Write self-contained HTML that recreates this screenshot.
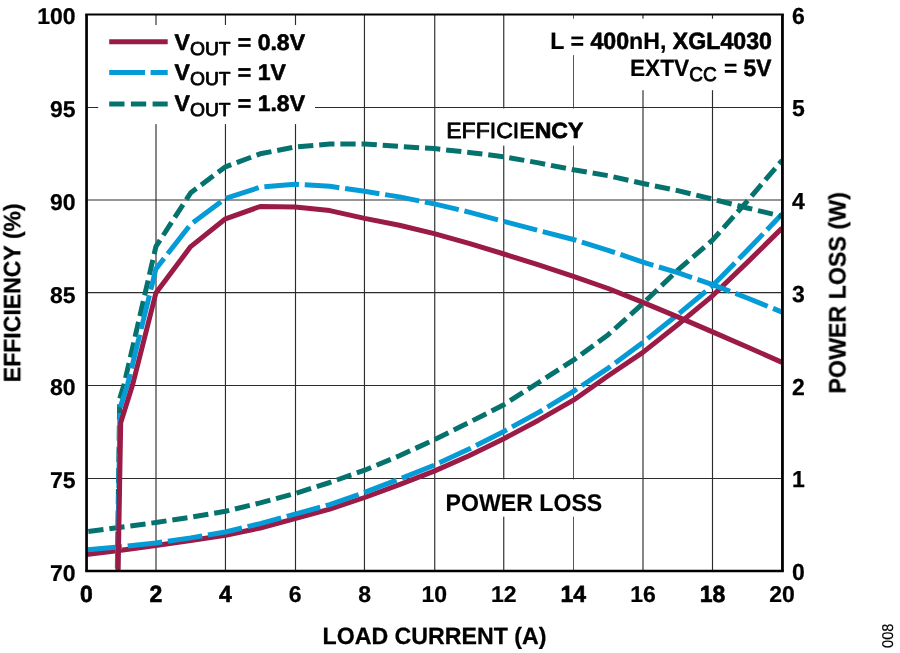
<!DOCTYPE html>
<html><head><meta charset="utf-8"><title>Efficiency and Power Loss vs Load Current</title>
<style>html,body{margin:0;padding:0;background:#fff;}svg{display:block;}text{font-family:"Liberation Sans",sans-serif;font-weight:bold;fill:#000;text-rendering:geometricPrecision;}</style>
</head><body>
<svg width="900" height="653" viewBox="0 0 900 653">
<rect x="0" y="0" width="900" height="653" fill="#fff"/>
<g stroke="#2c2c2c" stroke-width="1.15" fill="none">
<line x1="156.00" y1="14.7" x2="156.00" y2="571.2"/>
<line x1="225.45" y1="14.7" x2="225.45" y2="571.2"/>
<line x1="295.50" y1="14.7" x2="295.50" y2="571.2"/>
<line x1="364.45" y1="14.7" x2="364.45" y2="571.2"/>
<line x1="434.75" y1="14.7" x2="434.75" y2="571.2"/>
<line x1="503.75" y1="14.7" x2="503.75" y2="571.2"/>
<line x1="573.50" y1="14.7" x2="573.50" y2="571.2" stroke-width="0.8"/>
<line x1="643.00" y1="14.7" x2="643.00" y2="571.2"/>
<line x1="712.50" y1="14.7" x2="712.50" y2="571.2"/>
<line x1="86.3" y1="478.50" x2="782.1" y2="478.50"/>
<line x1="86.3" y1="385.50" x2="782.1" y2="385.50"/>
<line x1="86.3" y1="292.60" x2="782.1" y2="292.60"/>
<line x1="86.3" y1="200.00" x2="782.1" y2="200.00"/>
<line x1="86.3" y1="107.45" x2="782.1" y2="107.45"/>
</g>
<g fill="#fff">
<rect x="98.2" y="25" width="216.8" height="99.1"/>
<rect x="545" y="18.7" width="236" height="36.4"/>
<rect x="622" y="54.5" width="159" height="35.7"/>
<rect x="440" y="108.4" width="150" height="37.2"/>
<rect x="440" y="479.3" width="168" height="37.4"/>
</g>
<clipPath id="pc"><rect x="86.3" y="14.7" width="695.8" height="556.5"/></clipPath>
<g clip-path="url(#pc)">
<polyline points="86.3,554.6 121.1,550.3 155.9,545.4 190.7,540.6 225.5,535.2 260.2,528.0 295.0,518.7 329.8,509.1 364.6,497.5 399.4,484.6 434.2,471.1 469.0,455.8 503.8,438.7 538.6,420.2 573.4,400.2 608.2,375.8 642.9,352.4 677.7,324.7 712.5,295.8 747.3,262.4 782.1,228.0" fill="none" stroke="#9b1b47" stroke-width="5.0" stroke-linejoin="round"/>
<polyline points="86.3,549.8 121.1,546.7 155.9,543.0 190.7,537.9 225.5,532.0 260.2,523.6 295.0,514.2 329.8,504.6 364.6,492.4 399.4,479.1 434.2,465.2 469.0,449.1 503.8,431.4 538.6,412.4 573.4,391.3 608.2,368.1 642.9,342.4 677.7,314.7 712.5,285.8 747.3,250.3 782.1,214.1" fill="none" stroke="#059bd6" stroke-width="5.0" stroke-linejoin="round" stroke-dasharray="34.7 5.8" stroke-dashoffset="39.41"/>
<polyline points="86.3,531.8 121.1,527.2 155.9,522.5 190.7,517.2 225.5,511.3 260.2,502.9 295.0,493.5 329.8,482.5 364.6,470.2 399.4,455.8 434.2,439.7 469.0,422.5 503.8,404.7 538.6,382.5 573.4,360.2 608.2,334.7 642.9,303.5 677.7,270.2 712.5,240.1 747.3,201.1 782.1,160.3" fill="none" stroke="#06726e" stroke-width="5.0" stroke-linejoin="round" stroke-dasharray="15.3 5.9" stroke-dashoffset="19.17"/>
<polyline points="117.3,571.2 119.7,398.7 124.2,383.9 155.9,246.6 190.7,192.8 225.5,166.8 260.2,153.8 295.0,147.0 329.8,144.0 364.6,144.0 399.4,146.4 434.2,148.6 469.0,152.4 503.8,156.8 538.6,162.9 573.4,169.8 608.2,175.7 642.9,183.5 677.7,190.6 712.5,199.1 747.3,208.0 782.1,216.4" fill="none" stroke="#06726e" stroke-width="5.0" stroke-linejoin="round" stroke-dasharray="15.3 5.9" stroke-dashoffset="18.00"/>
<polyline points="117.6,571.2 120.0,408.0 127.7,383.9 155.9,268.9 190.7,224.3 225.5,198.4 260.2,187.2 295.0,184.3 329.8,186.3 364.6,191.3 399.4,196.9 434.2,203.9 469.0,212.1 503.8,221.4 538.6,230.6 573.4,239.5 608.2,250.3 642.9,262.2 677.7,272.6 712.5,284.6 747.3,298.0 782.1,312.1" fill="none" stroke="#059bd6" stroke-width="5.0" stroke-linejoin="round" stroke-dasharray="34.7 5.8" stroke-dashoffset="38.46"/>
<polyline points="118.1,571.2 120.7,422.8 132.6,384.8 155.9,293.0 190.7,246.6 225.5,218.8 260.2,206.5 295.0,206.9 329.8,210.6 364.6,218.4 399.4,225.3 434.2,233.6 469.0,243.3 503.8,254.0 538.6,264.8 573.4,276.3 608.2,288.5 642.9,302.4 677.7,316.9 712.5,331.9 747.3,347.0 782.1,362.4" fill="none" stroke="#9b1b47" stroke-width="5.0" stroke-linejoin="round"/>
</g>
<g stroke="#000" stroke-linecap="butt">
<line x1="85.20" y1="14.45" x2="783.85" y2="14.45" stroke-width="2.1"/>
<line x1="85.20" y1="571.00" x2="783.85" y2="571.00" stroke-width="2.7"/>
<line x1="86.55" y1="14.45" x2="86.55" y2="571.00" stroke-width="2.7"/>
<line x1="782.45" y1="14.45" x2="782.45" y2="571.00" stroke-width="2.8"/>
</g>
<line x1="109.2" y1="41.7" x2="167.7" y2="41.7" stroke="#9b1b47" stroke-width="5.0"/>
<line x1="109.2" y1="72.4" x2="167.7" y2="72.4" stroke="#059bd6" stroke-width="5.0" stroke-dasharray="35.8 5.6"/>
<line x1="109.2" y1="103.9" x2="167.7" y2="103.9" stroke="#06726e" stroke-width="5.0" stroke-dasharray="15.3 6.4"/>
<g style="filter:grayscale(1)">
<text transform="translate(174.60,50.00) scale(1.0000,0.9732)" font-size="23" text-anchor="start" stroke="#000" stroke-width="0.6" stroke-linejoin="round">V<tspan dy="5.6" font-size="19.3" font-weight="normal" stroke="#000" stroke-width="0.8">OUT</tspan><tspan dy="-5.6" dx="0.8"> = 0.8V</tspan></text>
<text transform="translate(174.60,80.00) scale(1.0000,0.9732)" font-size="23" text-anchor="start" stroke="#000" stroke-width="0.6" stroke-linejoin="round">V<tspan dy="5.6" font-size="19.3" font-weight="normal" stroke="#000" stroke-width="0.8">OUT</tspan><tspan dy="-5.6" dx="0.8"> = 1V</tspan></text>
<text transform="translate(174.60,110.90) scale(1.0000,0.9732)" font-size="23" text-anchor="start" stroke="#000" stroke-width="0.6" stroke-linejoin="round">V<tspan dy="5.6" font-size="19.3" font-weight="normal" stroke="#000" stroke-width="0.8">OUT</tspan><tspan dy="-5.6" dx="0.8"> = 1.8V</tspan></text>
<text transform="translate(772.00,49.10) scale(1.0070,1.0301)" font-size="23" text-anchor="end" stroke="#000" stroke-width="0.2" stroke-linejoin="round">L = <tspan stroke="#000" stroke-width="0.6" stroke-linejoin="round">400</tspan>nH, <tspan stroke="#000" stroke-width="0.6" stroke-linejoin="round">XGL4030</tspan></text>
<text transform="translate(771.30,75.70) scale(0.9880,1.0238)" font-size="23" text-anchor="end" stroke="#000" stroke-width="0.2" stroke-linejoin="round">EXTV<tspan dy="5.6" font-size="19.3" font-weight="normal" stroke="#000" stroke-width="0.8">CC</tspan><tspan dy="-5.6" dx="0.8"> = <tspan stroke="#000" stroke-width="0.5" stroke-linejoin="round">5V</tspan></tspan></text>
<text transform="translate(446.20,137.70) scale(1.0030,0.9574)" font-size="23" text-anchor="start" stroke="#000" stroke-width="0" stroke-linejoin="round"><tspan font-weight="normal" stroke="#000" stroke-width="0.85">EFFICIE</tspan><tspan stroke="#000" stroke-width="0.75" stroke-linejoin="round">NCY</tspan></text>
<text transform="translate(445.60,510.80) scale(1.0050,1.0459)" font-size="23" text-anchor="start" stroke="#000" stroke-width="0.15" stroke-linejoin="round">POWER LOSS</text>
<text transform="translate(75.50,580.85) scale(1.0000,0.9900)" font-size="23" text-anchor="end" stroke="#000" stroke-width="0.25" stroke-linejoin="round">70</text>
<text transform="translate(75.50,488.09) scale(1.0000,0.9900)" font-size="23" text-anchor="end" stroke="#000" stroke-width="0.25" stroke-linejoin="round">75</text>
<text transform="translate(75.50,395.33) scale(1.0000,0.9900)" font-size="23" text-anchor="end" stroke="#000" stroke-width="0.25" stroke-linejoin="round">80</text>
<text transform="translate(75.50,302.58) scale(1.0000,0.9900)" font-size="23" text-anchor="end" stroke="#000" stroke-width="0.25" stroke-linejoin="round">85</text>
<text transform="translate(75.50,209.82) scale(1.0000,0.9900)" font-size="23" text-anchor="end" stroke="#000" stroke-width="0.25" stroke-linejoin="round">90</text>
<text transform="translate(75.50,117.06) scale(1.0000,0.9900)" font-size="23" text-anchor="end" stroke="#000" stroke-width="0.25" stroke-linejoin="round">95</text>
<text transform="translate(75.50,24.30) scale(1.0000,0.9900)" font-size="23" text-anchor="end" stroke="#000" stroke-width="0.25" stroke-linejoin="round">100</text>
<text transform="translate(791.90,580.25) scale(1.0000,1.0100)" font-size="23" text-anchor="start" stroke="#000" stroke-width="0.25" stroke-linejoin="round">0</text>
<text transform="translate(791.90,487.49) scale(1.0000,1.0100)" font-size="23" text-anchor="start" stroke="#000" stroke-width="0.25" stroke-linejoin="round">1</text>
<text transform="translate(791.90,394.73) scale(1.0000,1.0100)" font-size="23" text-anchor="start" stroke="#000" stroke-width="0.25" stroke-linejoin="round">2</text>
<text transform="translate(791.90,301.98) scale(1.0000,1.0100)" font-size="23" text-anchor="start" stroke="#000" stroke-width="0.25" stroke-linejoin="round">3</text>
<text transform="translate(791.90,209.22) scale(1.0000,1.0100)" font-size="23" text-anchor="start" stroke="#000" stroke-width="0.25" stroke-linejoin="round">4</text>
<text transform="translate(791.90,116.46) scale(1.0000,1.0100)" font-size="23" text-anchor="start" stroke="#000" stroke-width="0.25" stroke-linejoin="round">5</text>
<text transform="translate(791.90,23.70) scale(1.0000,1.0100)" font-size="23" text-anchor="start" stroke="#000" stroke-width="0.25" stroke-linejoin="round">6</text>
<text transform="translate(86.30,602.10) scale(1.0000,1.0200)" font-size="23" text-anchor="middle" stroke="#000" stroke-width="0.6" stroke-linejoin="round">0</text>
<text transform="translate(155.88,602.10) scale(1.0000,1.0200)" font-size="23" text-anchor="middle" stroke="#000" stroke-width="0.6" stroke-linejoin="round">2</text>
<text transform="translate(225.46,602.10) scale(1.0000,1.0200)" font-size="23" text-anchor="middle" stroke="#000" stroke-width="0.6" stroke-linejoin="round">4</text>
<text transform="translate(295.04,602.40) scale(1.0000,0.9900)" font-size="23" text-anchor="middle" stroke="#000" stroke-width="0.25" stroke-linejoin="round">6</text>
<text transform="translate(364.62,602.40) scale(1.0000,0.9900)" font-size="23" text-anchor="middle" stroke="#000" stroke-width="0.25" stroke-linejoin="round">8</text>
<text transform="translate(434.20,602.40) scale(1.0000,0.9900)" font-size="23" text-anchor="middle" stroke="#000" stroke-width="0.25" stroke-linejoin="round">10</text>
<text transform="translate(503.78,602.40) scale(1.0000,0.9900)" font-size="23" text-anchor="middle" stroke="#000" stroke-width="0.25" stroke-linejoin="round">12</text>
<text transform="translate(573.36,602.10) scale(1.0000,1.0200)" font-size="23" text-anchor="middle" stroke="#000" stroke-width="0.6" stroke-linejoin="round">14</text>
<text transform="translate(642.94,602.40) scale(1.0000,0.9900)" font-size="23" text-anchor="middle" stroke="#000" stroke-width="0.25" stroke-linejoin="round">16</text>
<text transform="translate(712.52,602.10) scale(1.0000,1.0200)" font-size="23" text-anchor="middle" stroke="#000" stroke-width="0.6" stroke-linejoin="round">18</text>
<text transform="translate(782.10,602.40) scale(1.0000,0.9900)" font-size="23" text-anchor="middle" stroke="#000" stroke-width="0.25" stroke-linejoin="round">20</text>
<text transform="translate(434.50,643.90) scale(1.0075,1.0206)" font-size="23" text-anchor="middle" stroke="#000" stroke-width="0.25" stroke-linejoin="round">LOAD CURRENT (A)</text>
<text transform="translate(20.70,292.80) rotate(-90) scale(1.0030,1.0206)" font-size="23" text-anchor="middle" stroke="#000" stroke-width="0.25" stroke-linejoin="round">EFFICIENCY (%)</text>
<text transform="translate(845.20,292.80) rotate(-90) scale(1.0100,1.0332)" font-size="23" text-anchor="middle" stroke="#000" stroke-width="0.25" stroke-linejoin="round">POWER LOSS (W)</text>
<text transform="translate(893.00,635.80) rotate(-90) scale(1.0000,1.0700)" font-size="14.6" text-anchor="middle" stroke="#000" stroke-width="0.15" stroke-linejoin="round" style="font-weight:normal">008</text>
</g>
</svg>
</body></html>
